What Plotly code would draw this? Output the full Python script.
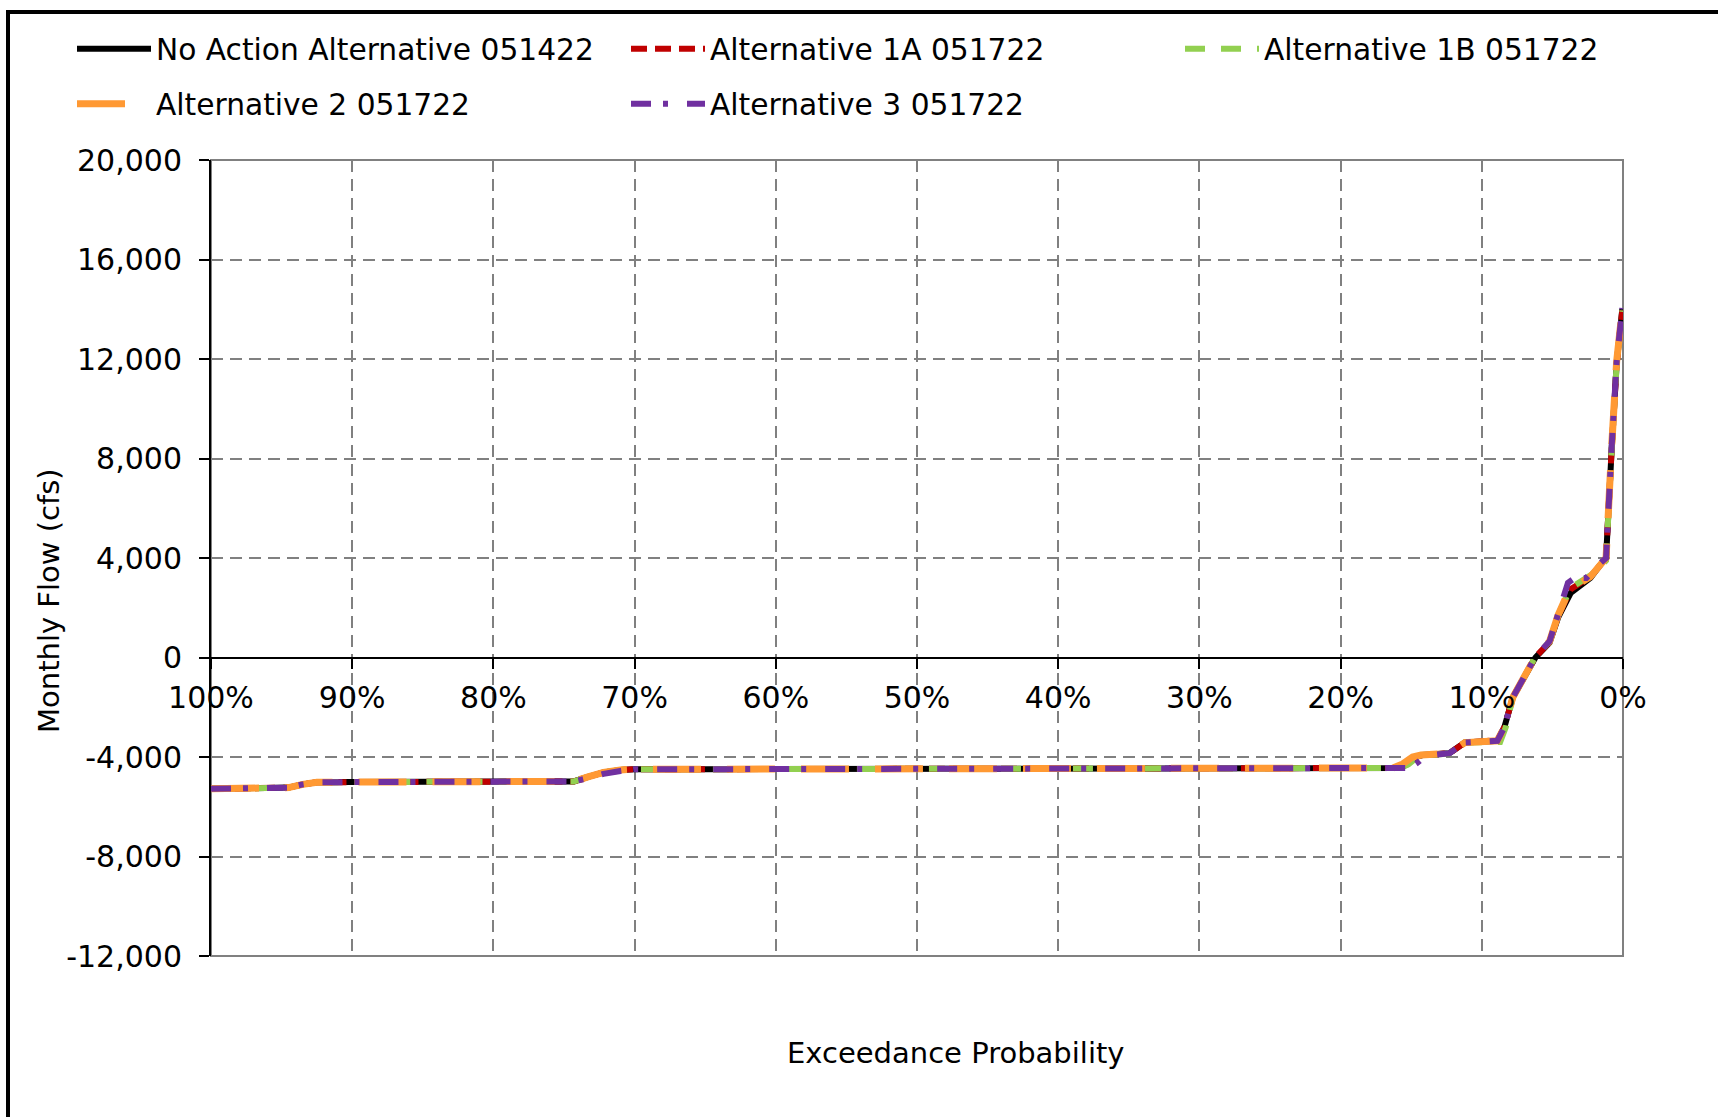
import plotly.graph_objects as go

# Exceedance probability (%) and monthly flow (cfs) for each alternative
exc_no_action = [100, 97, 95.5, 94.5, 93.5, 92.5, 90, 80, 75, 74.3, 73.3, 72.2, 71, 70, 65, 59.2, 58.8,
                 40, 20, 15.8, 15.3, 14.7, 14.2, 13.0, 12.3, 11.2, 9.8, 8.9, 8.4, 7.8, 7.0, 6.2, 5.2,
                 4.6, 3.7, 3.0, 2.3, 1.5, 1.2, 0.8, 0.45, 0.05]
flow_no_action = [-5280, -5280, -5270, -5230, -5100, -5020, -5010, -5010, -5000, -4980, -4800, -4620,
                  -4520, -4490, -4490, -4490, -4440, -4440, -4440, -4440, -4300, -4000, -3920, -3880,
                  -3850, -3420, -3400, -3350, -2800, -1600, -800, 0, 600, 1600, 2600, 2900, 3200,
                  3800, 4000, 8400, 11800, 14000]

exc_alt1a = [100, 97, 95.5, 94.5, 93.5, 92.5, 90, 80, 75, 74.3, 73.3, 72.2, 71, 70, 65, 59.2, 58.8,
             40, 20, 15.8, 15.3, 14.7, 14.2, 13.0, 12.3, 11.2, 9.8, 8.9, 8.4, 7.8, 7.0, 6.2, 5.2,
             4.6, 3.7, 3.0, 2.3, 1.5, 1.2, 0.8, 0.45, 0.05]
flow_alt1a = [-5280, -5280, -5270, -5230, -5100, -5020, -5010, -5010, -5000, -4980, -4800, -4620,
              -4520, -4490, -4490, -4490, -4440, -4440, -4440, -4440, -4280, -3990, -3910, -3880,
              -3850, -3420, -3400, -3330, -2800, -1600, -780, 20, 620, 1650, 2750, 3000, 3250,
              3800, 4000, 8400, 11800, 13950]

exc_alt1b = [100, 97, 95.5, 94.5, 93.5, 92.5, 90, 80, 75, 74.3, 73.3, 72.2, 71, 70, 65, 59.2, 58.8,
             40, 20, 15.8, 15.2, 14.6, 14.1, 13.0, 12.3, 11.2, 9.8, 8.7, 8.3, 7.8, 7.0, 6.2, 5.2,
             4.6, 3.7, 3.0, 2.3, 1.5, 1.2, 0.8, 0.45, 0.05]
flow_alt1b = [-5280, -5280, -5270, -5230, -5100, -5020, -5010, -5010, -5000, -4980, -4800, -4620,
              -4520, -4490, -4490, -4490, -4440, -4440, -4440, -4440, -4300, -4020, -3930, -3890,
              -3860, -3420, -3400, -3400, -2800, -1600, -780, 30, 640, 1700, 2800, 3050, 3300,
              3700, 3900, 8400, 11800, 13950]

exc_alt2 = [100, 97, 95.5, 94.5, 93.5, 92.5, 90, 80, 75, 74.3, 73.3, 72.2, 71, 70, 65, 59.2, 58.8,
            40, 20, 16.3, 15.6, 14.9, 14.3, 13.0, 12.3, 11.2, 9.8, 8.9, 8.4, 7.8, 7.0, 6.2, 5.2,
            4.6, 3.7, 3.0, 2.3, 1.5, 1.2, 0.8, 0.45, 0.05]
flow_alt2 = [-5280, -5280, -5270, -5230, -5100, -5020, -5010, -5010, -5000, -4980, -4800, -4620,
             -4520, -4490, -4490, -4490, -4440, -4440, -4440, -4440, -4280, -4000, -3920, -3880,
             -3850, -3420, -3400, -3350, -2800, -1600, -780, 30, 650, 1700, 2850, 3000, 3250,
             3800, 4000, 8500, 11900, 14000]

exc_alt3 = [100, 97, 95.5, 94.5, 93.5, 92.5, 90, 80, 75, 74.3, 73.3, 72.2, 71, 70, 65, 59.2, 58.8,
            40, 20, 15.1, 14.6, 14.1, 13.6, 13.0, 12.3, 11.2, 9.8, 8.9, 8.4, 7.8, 7.0, 6.2, 5.2,
            4.6, 3.9, 3.4, 2.6, 1.8, 1.2, 0.8, 0.45, 0.05]
flow_alt3 = [-5280, -5280, -5270, -5230, -5100, -5020, -5010, -5010, -5000, -4980, -4850, -4680,
             -4560, -4490, -4490, -4490, -4440, -4440, -4440, -4440, -4250, -4000, -3930, -3890,
             -3850, -3420, -3400, -3350, -2800, -1600, -780, 30, 650, 1750, 3000, 3200, 3200,
             3700, 4000, 8500, 11900, 14050]

series_names = ["No Action Alternative 051422", "Alternative 1A 051722", "Alternative 1B 051722",
                "Alternative 2 051722", "Alternative 3 051722"]

# y-axis ticks, written with a plain hyphen for negatives
y_ticks = [-12000, -8000, -4000, 0, 4000, 8000, 12000, 16000, 20000]
y_tick_labels = ["-12,000", "-8,000", "-4,000", "0", "4,000", "8,000", "12,000", "16,000", "20,000"]

FONT = "DejaVu Sans"
W, H = 1718, 1117
L, R, T, B = 211, 95, 160, 161
PW, PH = W - L - R, H - T - B


def px_x(px):
    return (px - L) / PW


def px_y(py):
    return (H - B - py) / PH


fig = go.Figure()

styles = [
    dict(color="#000000", width=6, dash="solid"),
    dict(color="#C00000", width=6, dash="16px,8px"),
    dict(color="#92D050", width=6, dash="20px,16px"),
    dict(color="#FF9933", width=7, dash="48px,26px"),
    dict(color="#7030A0", width=6, dash="20px,12px,5px,19px"),
]
data = [(exc_no_action, flow_no_action), (exc_alt1a, flow_alt1a), (exc_alt1b, flow_alt1b),
        (exc_alt2, flow_alt2), (exc_alt3, flow_alt3)]
legend_ids = ["legend", "legend2", "legend3", "legend4", "legend5"]

for (xs, ys), name, st, lg in zip(data, series_names, styles, legend_ids):
    fig.add_trace(go.Scatter(x=xs, y=ys, mode="lines", name=name, line=st, legend=lg,
                             showlegend=True))

# legend entries laid out in two rows, three columns
legend_pos = [(72, 49), (626, 49), (1180, 49), (72, 104), (626, 104)]
legend_layout = {}
for lg, (lx, ly) in zip(legend_ids, legend_pos):
    legend_layout[lg] = dict(
        x=lx / W, y=1 - ly / H, xref="container", yref="container",
        xanchor="left", yanchor="middle", orientation="v",
        font=dict(family=FONT, size=29.7, color="#000000"),
        itemwidth=74, bgcolor="rgba(0,0,0,0)", borderwidth=0,
    )

fig.update_layout(
    width=W, height=H,
    margin=dict(l=L, r=R, t=T, b=B, autoexpand=False),
    paper_bgcolor="white", plot_bgcolor="white",
    font=dict(family=FONT, size=30, color="#000000"),
    **legend_layout,
)

fig.update_xaxes(
    range=[100, 0], dtick=10, tick0=0, ticksuffix="%",
    anchor="free", position=12000 / 32000,
    showline=True, linecolor="#000000", linewidth=2,
    ticks="outside", ticklen=10, tickwidth=2, tickcolor="#000000",
    showgrid=True, gridcolor="#808080", gridwidth=1.5, griddash="12px,7px",
    zeroline=False, tickfont=dict(family=FONT, size=30, color="#000000"),
    ticklabelstandoff=3,
)
fig.update_yaxes(
    range=[-12000, 20000], tickvals=y_ticks, ticktext=y_tick_labels,
    showline=True, linecolor="#000000", linewidth=2,
    ticks="outside", ticklen=10, tickwidth=2, tickcolor="#000000",
    showgrid=True, gridcolor="#808080", gridwidth=1.5, griddash="12px,7px",
    zeroline=False, tickfont=dict(family=FONT, size=30, color="#000000"),
    ticklabelstandoff=11,
)

# plot-area border and outer chart frame
fig.add_shape(type="rect", xref="paper", yref="paper", x0=0, x1=1, y0=0, y1=1,
              line=dict(color="#808080", width=2), layer="below")
fig.add_shape(type="line", xref="paper", yref="paper", x0=px_x(6), x1=px_x(W + 10),
              y0=px_y(12), y1=px_y(12), line=dict(color="#000000", width=4))
fig.add_shape(type="line", xref="paper", yref="paper", x0=px_x(8), x1=px_x(8),
              y0=px_y(10), y1=px_y(H + 10), line=dict(color="#000000", width=4))

fig.add_annotation(text="Exceedance Probability", xref="paper", yref="paper",
                   x=px_x(955), y=px_y(1072), showarrow=False,
                   font=dict(family=FONT, size=29, color="#000000"))
fig.add_annotation(text="Monthly Flow (cfs)", xref="paper", yref="paper",
                   x=px_x(30), y=px_y(601), showarrow=False, textangle=-90,
                   font=dict(family=FONT, size=29, color="#000000"))

fig.write_html("out.html")
